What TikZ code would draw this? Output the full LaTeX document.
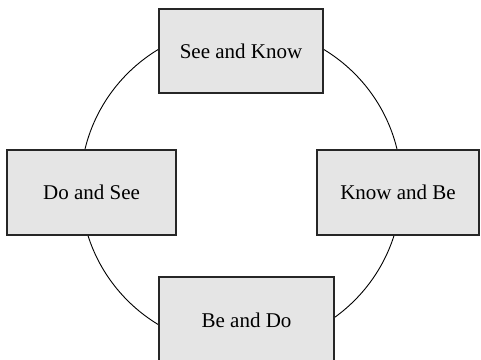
\documentclass[tikz,border=0pt]{standalone}
\usepackage{fontspec}
\setmainfont{Liberation Serif}
\begin{document}
\begin{tikzpicture}[x=1pt,y=-1pt,
  stage/.style={draw=black!85, fill=black!10, line width=1.2pt, inner sep=0pt,
    font=\fontsize{21}{25}\selectfont},
  cycle/.style={draw=black, line width=0.9pt}]
\useasboundingbox (0,0) rectangle (481,359);
% the cycle behind the four stages
\draw[cycle] (241,187) circle[radius=160.5];
% the four stages
\node[stage, minimum width=164pt, minimum height=84pt] (sk) at (241,51) {See and Know};
\node[stage, minimum width=169pt, minimum height=85pt] (ds) at (91.5,192.5) {Do and See};
\node[stage, minimum width=162pt, minimum height=85pt] (kb) at (398,192.5) {Know and Be};
\node[stage, minimum width=175pt, minimum height=86pt] (bd) at (246.5,320) {Be and Do};
\end{tikzpicture}
\end{document}
